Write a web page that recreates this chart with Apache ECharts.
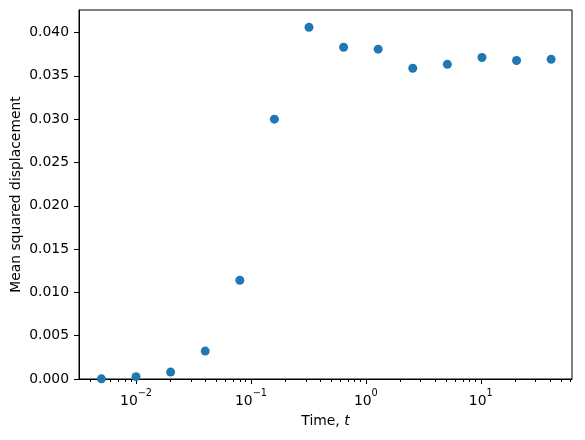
<!DOCTYPE html>
<html>
<head>
<meta charset="utf-8">
<script src="https://cdn.jsdelivr.net/npm/echarts@6/dist/echarts.min.js"></script>
<style>
  html, body { margin: 0; padding: 0; background: #fff; }
</style>
</head>
<body>
<div id="main" style="width:585px;height:440px;"></div>
<script>
// times (doubling from 0.005) and measured mean squared displacement
var times = [0.005, 0.01, 0.02, 0.04, 0.08, 0.16, 0.32, 0.64, 1.28, 2.56, 5.12, 10.24, 20.48, 40.96]
var msd = [0.00002, 0.00027, 0.00080, 0.00322, 0.01140, 0.03000, 0.04060, 0.03830, 0.03808, 0.03588, 0.03633, 0.03712, 0.03677, 0.03690]
var xMajorTicks = [0.01, 0.1, 1, 10]
var yTicks = [0, 0.005, 0.01, 0.015, 0.02, 0.025, 0.03, 0.035, 0.04]

// minor log ticks 2..9 x 10^k inside the visible range
var xMin = 0.00319, xMax = 62.2
var xMinorTicks = []
for (var e = -3; e <= 1; e++) {
  for (var k = 2; k <= 9; k++) {
    var v = k * Math.pow(10, e)
    if (v > xMin && v < xMax) xMinorTicks.push(v)
  }
}

var points = []
for (var i = 0; i < times.length; i++) {
  points.push([times[i], msd[i]])
}

var font = 'DejaVu Sans'
var myChart = echarts.init(document.getElementById('main'), null, {renderer: 'canvas'})

var option = {
  animation: false,
  backgroundColor: '#fff',
  grid: {
    left: 79,
    right: 13,
    top: 10,
    bottom: 61,
    outerBoundsMode: 'none',
    containLabel: false,
    show: true,
    borderColor: '#000',
    borderWidth: 1
  },
  xAxis: [
    {
      type: 'log',
      logBase: 10,
      min: xMin,
      max: xMax,
      name: '{n|Time, }{t|t}',
      nameLocation: 'middle',
      nameGap: 35,
      nameMoveOverlap: false,
      nameTextStyle: {
        rich: {
          n: {fontFamily: font, fontSize: 13.9, color: '#000'},
          t: {fontFamily: font, fontSize: 13.9, color: '#000', fontStyle: 'italic'}
        }
      },
      axisLine: {show: true, lineStyle: {color: '#000', width: 1}},
      axisTick: {show: true, length: 5, lineStyle: {color: '#000'}, customValues: xMajorTicks},
      splitLine: {show: false},
      axisLabel: {
        customValues: xMajorTicks,
        margin: 9,
        formatter: function (val) {
          var p = Math.round(Math.log10(val))
          var s = p < 0 ? '\u2212' + (-p) : '' + p
          return '{b|10}{s|' + s + '}'
        },
        rich: {
          b: {fontFamily: font, fontSize: 13.9, color: '#000', verticalAlign: 'bottom', lineHeight: 20},
          s: {fontFamily: font, fontSize: 9.7, color: '#000', verticalAlign: 'top', lineHeight: 20}
        }
      }
    },
    {
      type: 'log',
      logBase: 10,
      min: xMin,
      max: xMax,
      position: 'bottom',
      axisLine: {show: false},
      axisTick: {show: true, length: 3, lineStyle: {color: '#000'}, customValues: xMinorTicks},
      axisLabel: {show: false},
      splitLine: {show: false}
    }
  ],
  yAxis: {
    type: 'value',
    min: 0,
    max: 0.0426,
    name: 'Mean squared displacement',
    nameLocation: 'middle',
    nameGap: 56,
    nameMoveOverlap: false,
    nameTextStyle: {fontFamily: font, fontSize: 13.9, color: '#000'},
    axisLine: {show: true, lineStyle: {color: '#000', width: 1}},
    axisTick: {show: true, length: 5, lineStyle: {color: '#000'}, customValues: yTicks},
    splitLine: {show: false},
    axisLabel: {
      customValues: yTicks,
      margin: 10,
      fontFamily: font,
      fontSize: 13.9,
      color: '#000',
      formatter: function (val) { return val.toFixed(3) }
    }
  },
  series: [
    {
      type: 'scatter',
      xAxisIndex: 0,
      symbol: 'circle',
      symbolSize: 9,
      itemStyle: {color: '#1f77b4', opacity: 1},
      data: points
    }
  ]
}

myChart.setOption(option)
</script>
</body>
</html>
